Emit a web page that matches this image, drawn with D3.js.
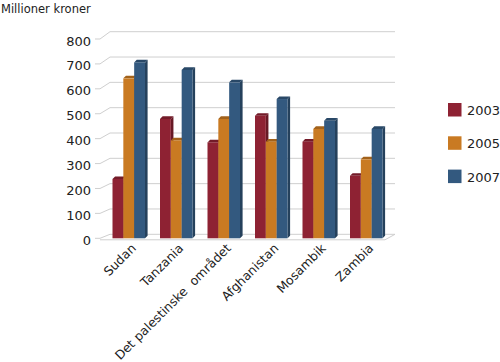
<!DOCTYPE html>
<html>
<head>
<meta charset="utf-8">
<script src="https://cdn.jsdelivr.net/npm/d3@7"></script>
<style>
  body { margin: 0; background: #fff; }
  text { font-family: "DejaVu Sans", sans-serif; fill: #222; }
</style>
</head>
<body>
<div id="chart"></div>
<script>
const countries = ["Sudan", "Tanzania", "Det palestinske  området", "Afghanistan", "Mosambik", "Zambia"];
const years = ["2003", "2005", "2007"];
const values2003 = [238, 479, 385, 492, 388, 251];
const values2005 = [642, 393, 479, 388, 439, 317];
const values2007 = [706, 676, 626, 559, 472, 439];
const yTicks = [0, 100, 200, 300, 400, 500, 600, 700, 800];

document.addEventListener("DOMContentLoaded", function () {
    const width = 500;
    const height = 362;
    const depth = { dx: 10 }; // shift from front plane to back wall
    const barDepth = 2.6;     // little side/top face of each bar

    const colors = { "2003": "#8e2233", "2005": "#c97a22", "2007": "#33597f" };

    const svg = d3.select("#chart").append("svg")
        .attr("width", width)
        .attr("height", height);

    const seriesByYear = { "2003": values2003, "2005": values2005, "2007": values2007 };

    // front plane and back wall have slightly different scales (perspective)
    const yFront = d3.scaleLinear().domain([0, 800]).range([238.3, 39]);
    const yBack = d3.scaleLinear().domain([0, 800]).range([234.3, 31.7]);

    const xFrontLeft = 100;
    const xBackLeft = xFrontLeft + depth.dx;
    const xBackRight = 395;

    // bars sit half-way into the depth
    const x0 = d3.scaleBand().domain(countries).range([105, 390]).paddingInner(0).paddingOuter(0);
    const groupW = 32.5;
    const x1 = d3.scaleBand().domain(years).range([(x0.bandwidth() - groupW) / 2, (x0.bandwidth() + groupW) / 2]);

    const grid = svg.append("g").attr("stroke", "#cfcfcf").attr("fill", "none");

    // back wall gridlines
    grid.selectAll(".gline").data(yTicks).enter().append("line")
        .attr("x1", xBackLeft).attr("x2", xBackRight)
        .attr("y1", d => yBack(d)).attr("y2", d => yBack(d));

    // side wall diagonals
    grid.selectAll(".diag").data(yTicks).enter().append("line")
        .attr("x1", xFrontLeft).attr("x2", xBackLeft)
        .attr("y1", d => yFront(d)).attr("y2", d => yBack(d));

    // tick marks on the front axis
    grid.selectAll(".tick").data(yTicks).enter().append("line")
        .attr("x1", xFrontLeft - 5).attr("x2", xFrontLeft)
        .attr("y1", d => yFront(d)).attr("y2", d => yFront(d));

    // floor outline
    grid.append("path")
        .attr("d", `M${xFrontLeft},${yFront(0) + 1.5} L${xBackRight - depth.dx},${yFront(0) + 1.5} L${xBackRight},${yBack(0)}`);

    // y tick labels
    svg.append("g").selectAll("text").data(yTicks).enter().append("text")
        .attr("x", 91)
        .attr("y", d => yFront(d) + 2)
        .attr("dy", "0.35em")
        .attr("text-anchor", "end")
        .attr("font-size", 13)
        .text(d => d);

    // bars with small 3D faces
    const bars = [];
    countries.forEach((c, i) => {
        years.forEach(yr => {
            bars.push({ country: c, year: yr, value: seriesByYear[yr][i] });
        });
    });

    const barG = svg.append("g").selectAll("g").data(bars).enter().append("g");
    const bw = x1.bandwidth();

    barG.each(function (d) {
        const g = d3.select(this);
        const x = x0(d.country) + x1(d.year);
        const yTop = yFront(d.value);
        const yBot = yFront(0);
        const base = d3.color(colors[d.year]);
        // side face
        g.append("path")
            .attr("d", `M${x + bw},${yTop} L${x + bw + barDepth},${yTop - barDepth} L${x + bw + barDepth},${yBot - barDepth} L${x + bw},${yBot} Z`)
            .attr("fill", base.darker(0.9));
        // top face
        g.append("path")
            .attr("d", `M${x},${yTop} L${x + barDepth},${yTop - barDepth} L${x + bw + barDepth},${yTop - barDepth} L${x + bw},${yTop} Z`)
            .attr("fill", base.darker(0.6));
        // front face
        g.append("rect")
            .attr("x", x).attr("y", yTop)
            .attr("width", bw).attr("height", yBot - yTop)
            .attr("fill", base);
    });

    // category labels, rotated
    svg.append("g").selectAll("text").data(countries).enter().append("text")
        .attr("text-anchor", "end")
        .attr("font-size", 12.5)
        .attr("transform", d => `translate(${x0(d) + x0.bandwidth() / 2 + 8},${249}) rotate(-45)`)
        .style("white-space", "pre")
        .text(d => d);

    // y axis title
    svg.append("text")
        .attr("x", 1).attr("y", 13)
        .attr("font-size", 11.5)
        .text("Millioner kroner");

    // legend
    const legend = svg.append("g").selectAll("g").data(years).enter().append("g")
        .attr("transform", (d, i) => `translate(448,${103 + i * 33.3})`);
    legend.append("rect").attr("width", 13.5).attr("height", 13.5).attr("fill", d => colors[d]);
    legend.append("text").attr("x", 19).attr("y", 7).attr("dy", "0.38em").attr("font-size", 13).text(d => d);
});
</script>
</body>
</html>
